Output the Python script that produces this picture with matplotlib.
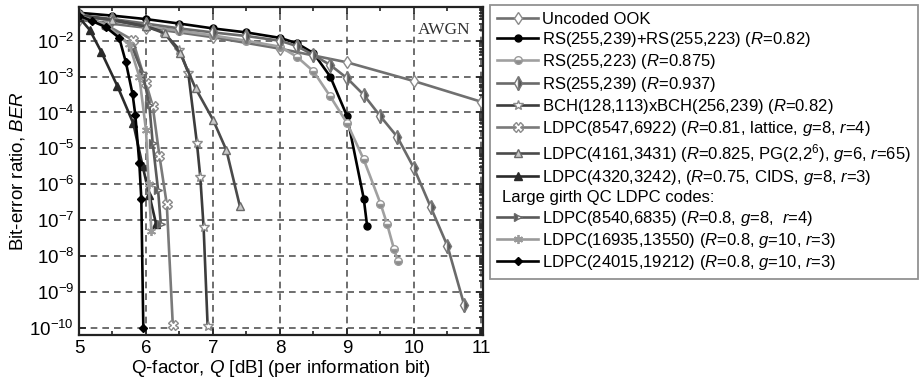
import matplotlib
matplotlib.use("Agg")
import matplotlib.pyplot as plt
from matplotlib.lines import Line2D
from matplotlib.ticker import LogLocator, MultipleLocator, NullFormatter

plt.rcParams['font.family'] = ['Liberation Sans', 'DejaVu Sans']
plt.rcParams['mathtext.fontset'] = 'custom'
plt.rcParams['mathtext.rm'] = 'Liberation Sans'
plt.rcParams['mathtext.it'] = 'Liberation Sans:italic'
plt.rcParams['mathtext.bf'] = 'Liberation Sans:bold'

# ---------------- data ----------------
q_unc = [5, 6, 7, 8, 9, 10, 11]
ber_unc = [3.8e-2, 2.3e-2, 1.25e-2, 6.0e-3, 2.5e-3, 7.5e-4, 2.0e-4]

q_rsrs = [5, 5.5, 6, 6.5, 7, 7.5, 8, 8.25, 8.5, 8.75, 9, 9.25, 9.3]
ber_rsrs = [6.0e-2, 5.0e-2, 4.0e-2, 3.0e-2, 2.2e-2, 1.7e-2, 1.2e-2, 8.5e-3,
            4.5e-3, 1.0e-3, 8.0e-5, 4.0e-7, 7.0e-8]

q_rs223 = [5, 5.5, 6, 6.5, 7, 7.5, 8, 8.25, 8.5, 8.75, 9, 9.25, 9.5, 9.6, 9.7, 9.76]
ber_rs223 = [5.0e-2, 3.5e-2, 2.5e-2, 1.9e-2, 1.4e-2, 1.0e-2, 6.8e-3, 3.6e-3,
             1.4e-3, 2.8e-4, 5.1e-5, 4.9e-6, 2.9e-7, 7.6e-8, 1.6e-8, 7.2e-9]

q_rs239 = [5, 5.5, 6, 6.5, 7, 7.5, 8, 8.25, 8.5, 8.75, 9, 9.25, 9.5, 9.75,
           10, 10.25, 10.5, 10.75]
ber_rs239 = [5.2e-2, 4.0e-2, 3.0e-2, 2.2e-2, 1.7e-2, 1.35e-2, 1.0e-2, 7.1e-3,
             4.0e-3, 2.1e-3, 9.1e-4, 3.1e-4, 7.8e-5, 2.1e-5, 2.8e-6, 2.3e-7,
             1.9e-8, 4.3e-10]

q_bch = [5, 5.5, 6, 6.25, 6.5, 6.63, 6.76, 6.81, 6.86, 6.92]
ber_bch = [5.0e-2, 3.8e-2, 2.5e-2, 1.8e-2, 5.6e-3, 1.3e-3, 1.4e-5, 1.6e-6,
           6.3e-8, 1.1e-10]

q_l8547 = [5, 5.4, 5.8, 6.0, 6.1, 6.2, 6.31, 6.4]
ber_l8547 = [5.0e-2, 2.8e-2, 1.05e-2, 6.6e-4, 1.5e-4, 6.3e-6, 2.8e-7, 1.2e-10]

q_l4161 = [5, 5.5, 6, 6.28, 6.51, 6.74, 7.0, 7.2, 7.4]
ber_l4161 = [5.0e-2, 3.8e-2, 2.5e-2, 1.6e-2, 4.5e-3, 4.7e-4, 6.3e-5, 8.9e-6, 2.5e-7]

q_l4320 = [5, 5.16, 5.33, 5.57, 5.81, 5.95, 6.05, 6.15]
ber_l4320 = [4.5e-2, 2.0e-2, 5.0e-3, 5.6e-4, 5.0e-5, 3.2e-6, 5.0e-7, 7.9e-8]

q_l8540 = [5, 5.4, 5.79, 5.95, 6.05, 6.1, 6.18, 6.22]
ber_l8540 = [5.0e-2, 2.8e-2, 6.8e-3, 1.26e-3, 1.6e-4, 1.4e-5, 7.0e-7, 8.0e-8]

q_l16935 = [5, 5.4, 5.75, 5.9, 6.0, 6.04, 6.08]
ber_l16935 = [5.0e-2, 2.8e-2, 7.9e-3, 1.0e-3, 3.2e-5, 1.0e-6, 5.0e-8]

q_l24015 = [5, 5.2, 5.4, 5.6, 5.7, 5.8, 5.84, 5.9, 5.93, 5.96]
ber_l24015 = [5.0e-2, 3.5e-2, 2.4e-2, 1.2e-2, 2.5e-3, 3.2e-4, 8.7e-5, 4.0e-6,
              4.0e-7, 1.0e-10]

labels = [
    "Uncoded OOK",
    r"RS(255,239)+RS(255,223) ($R$=0.82)",
    r"RS(255,223) ($R$=0.875)",
    r"RS(255,239) ($R$=0.937)",
    r"BCH(128,113)xBCH(256,239) ($R$=0.82)",
    r"LDPC(8547,6922) ($R$=0.81, lattice, $g$=8, $r$=4)",
    r"LDPC(4161,3431) ($R$=0.825, PG(2,2$^6$), $g$=6, $r$=65)",
    r"LDPC(4320,3242), ($R$=0.75, CIDS, $g$=8, $r$=3)",
    "Large girth QC LDPC codes:",
    r"LDPC(8540,6835) ($R$=0.8, $g$=8,  $r$=4)",
    r"LDPC(16935,13550) ($R$=0.8, $g$=10, $r$=3)",
    r"LDPC(24015,19212) ($R$=0.8, $g$=10, $r$=3)",
]

# ---------------- figure ----------------
W, H = 924, 392
fig = plt.figure(figsize=(W / 100, H / 100), dpi=100)
ax = fig.add_axes([79 / W, 1 - 335 / H, (483 - 79) / W, (335 - 7) / H])

lw = 1.9
ms = 5.5
styles = [
    (q_unc, ber_unc, dict(color='#707070', marker='d', mfc='white', mec='#8a8a8a', ms=ms + 1)),
    (q_rsrs, ber_rsrs, dict(color='#000000', marker='o', mfc='black', mec='black', ms=ms - 0.5)),
    (q_rs223, ber_rs223, dict(color='#a0a0a0', marker='o', fillstyle='bottom', mfc='#8a8a8a',
                              mfcalt='white', mec='#9a9a9a', ms=ms)),
    (q_rs239, ber_rs239, dict(color='#6a6a6a', marker='d', fillstyle='right', mfc='#555555',
                              mfcalt='white', mec='#777777', ms=ms + 1.5)),
    (q_bch, ber_bch, dict(color='#3c3c3c', marker='*', mfc='white', mec='#8a8a8a', ms=ms + 2)),
    (q_l8547, ber_l8547, dict(color='#7a7a7a', marker='X', mfc='white', mec='#8a8a8a', ms=ms + 1)),
    (q_l4161, ber_l4161, dict(color='#4a4a4a', marker='^', mfc='#c8c8c8', mec='#6a6a6a', ms=ms)),
    (q_l4320, ber_l4320, dict(color='#2a2a2a', marker='^', mfc='#2a2a2a', mec='#2a2a2a', ms=ms)),
    (None, None, None),
    (q_l8540, ber_l8540, dict(color='#5a5a5a', marker='>', fillstyle='left', mfc='#5a5a5a',
                              mfcalt='white', mec='#6a6a6a', ms=ms)),
    (q_l16935, ber_l16935, dict(color='#9a9a9a', marker=(6, 2, 0), mec='#9a9a9a', mew=1.3, ms=ms + 1)),
    (q_l24015, ber_l24015, dict(color='#000000', marker='D', mfc='black', mec='black', ms=ms - 1.5)),
]

handles = []
for (qq, bb, st), lab in zip(styles, labels):
    if qq is None:
        h = Line2D([], [], color='none', marker=None, lw=0)
        handles.append(h)
        continue
    h, = ax.plot(qq, bb, lw=lw, label=lab, **st)
    handles.append(h)

ax.set_yscale('log')
ax.set_xlim(5, 11.03)
ax.set_ylim(6.3e-11, 8.7e-2)
ax.set_xticks([5, 6, 7, 8, 9, 10, 11])
ax.xaxis.set_minor_locator(MultipleLocator(0.5))
ax.yaxis.set_major_locator(LogLocator(base=10, numticks=20))
ax.yaxis.set_minor_locator(LogLocator(base=10, subs=range(2, 10), numticks=20))
ax.yaxis.set_minor_formatter(NullFormatter())
ax.set_yticks([1e-10, 1e-9, 1e-8, 1e-7, 1e-6, 1e-5, 1e-4, 1e-3, 1e-2])
ax.tick_params(which='both', direction='in', top=True, right=True, labelsize=13.5,
               width=1.2, color='#222222')
ax.tick_params(which='major', length=5)
ax.tick_params(which='minor', length=3)
ax.tick_params(axis='y', which='minor', left=False)
ax.grid(True, which='major', ls=(0, (4, 3)), color='#555555', lw=1.2)
for s in ax.spines.values():
    s.set_linewidth(1.6)
    s.set_color('#222222')

ax.set_xlabel(r"Q-factor, $Q$ [dB] (per information bit)", fontsize=13.5, labelpad=1)
ax.set_ylabel(r"Bit-error ratio, $BER$", fontsize=13.5, labelpad=2)
ax.text(0.97, 0.955, "AWGN", transform=ax.transAxes, ha='right', va='top',
        fontsize=12.5, family='Liberation Serif', color='#333333',
        bbox=dict(facecolor='white', edgecolor='none', pad=1))

leg = fig.legend(handles, labels, loc='upper left',
                 bbox_to_anchor=(490 / W, 1 - 5 / H), bbox_transform=fig.transFigure,
                 fontsize=12.0, frameon=True, fancybox=False, handlelength=2.5,
                 handletextpad=0.25, labelspacing=0.2, borderpad=0.4,
                 borderaxespad=0)
leg.get_frame().set_edgecolor('#777777')
leg.get_frame().set_linewidth(1.3)
hdr = leg.get_texts()[8]
hdr.set_x(-40)

fig.savefig("out.png", dpi=100)
